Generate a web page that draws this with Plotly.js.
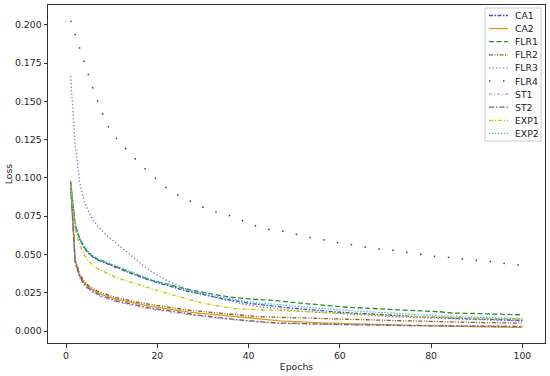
<!DOCTYPE html>
<html>
<head>
<meta charset="utf-8">
<script src="https://cdn.plot.ly/plotly-3.0.1.min.js"></script>
<style>html,body{margin:0;padding:0;background:#fff;}#chart{width:550px;height:376px;}</style>
</head>
<body>
<div id="chart"></div>
<script>
// ---- data ----
const seriesNames = ["CA1","CA2","FLR1","FLR2","FLR3","FLR4","ST1","ST2","EXP1","EXP2"];
const xTicks = [0, 20, 40, 60, 80, 100];
const yTicks = [0.000, 0.025, 0.050, 0.075, 0.100, 0.125, 0.150, 0.175, 0.200];

const CA1 = [0.0965,0.0688,0.0598,0.0542,0.0505,0.0481,0.0464,0.0451,0.0440,0.0428,
0.0416,0.0403,0.0391,0.0379,0.0367,0.0356,0.0345,0.0335,0.0325,0.0316,
0.0307,0.0298,0.0289,0.0281,0.0273,0.0265,0.0258,0.0251,0.0244,0.0237,
0.0231,0.0225,0.0219,0.0213,0.0208,0.0202,0.0197,0.0192,0.0187,0.0182,
0.0178,0.0174,0.0170,0.0166,0.0163,0.0160,0.0157,0.0154,0.0151,0.0148,
0.0145,0.0142,0.0140,0.0137,0.0134,0.0132,0.0130,0.0127,0.0125,0.0123,
0.0121,0.0119,0.0117,0.0115,0.0113,0.0111,0.0109,0.0107,0.0106,0.0104,
0.0102,0.0101,0.0099,0.0098,0.0096,0.0095,0.0093,0.0092,0.0091,0.0089,
0.0088,0.0087,0.0086,0.0085,0.0083,0.0082,0.0081,0.0080,0.0079,0.0078,
0.0077,0.0077,0.0076,0.0075,0.0074,0.0073,0.0072,0.0072,0.0071,0.0070];

const CA2 = [0.0975,0.0460,0.0362,0.0314,0.0285,0.0265,0.0250,0.0237,0.0226,0.0217,
0.0209,0.0202,0.0195,0.0189,0.0183,0.0177,0.0171,0.0165,0.0159,0.0154,
0.0149,0.0144,0.0139,0.0135,0.0131,0.0127,0.0123,0.0120,0.0117,0.0114,
0.0111,0.0108,0.0105,0.0102,0.0099,0.0096,0.0093,0.0090,0.0087,0.0084,
0.0081,0.0078,0.0076,0.0073,0.0071,0.0069,0.0067,0.0065,0.0063,0.0061,
0.0059,0.0058,0.0057,0.0056,0.0055,0.0054,0.0053,0.0052,0.0051,0.0050,
0.0049,0.0048,0.0047,0.0046,0.0045,0.0045,0.0044,0.0043,0.0042,0.0041,
0.0040,0.0040,0.0039,0.0038,0.0038,0.0037,0.0036,0.0036,0.0035,0.0034,
0.0034,0.0033,0.0033,0.0032,0.0031,0.0031,0.0030,0.0030,0.0029,0.0028,
0.0028,0.0027,0.0027,0.0026,0.0026,0.0026,0.0025,0.0025,0.0024,0.0024];

const FLR1 = [0.0978,0.0695,0.0602,0.0548,0.0510,0.0484,0.0468,0.0455,0.0446,0.0433,
0.0420,0.0408,0.0396,0.0384,0.0371,0.0358,0.0348,0.0339,0.0330,0.0322,
0.0315,0.0307,0.0298,0.0290,0.0283,0.0276,0.0270,0.0264,0.0258,0.0252,
0.0247,0.0242,0.0237,0.0231,0.0226,0.0222,0.0218,0.0215,0.0212,0.0210,
0.0208,0.0207,0.0206,0.0205,0.0202,0.0199,0.0195,0.0191,0.0188,0.0185,
0.0182,0.0180,0.0178,0.0175,0.0172,0.0168,0.0165,0.0163,0.0161,0.0159,
0.0157,0.0155,0.0154,0.0152,0.0150,0.0149,0.0147,0.0145,0.0144,0.0143,
0.0141,0.0140,0.0139,0.0138,0.0137,0.0135,0.0133,0.0131,0.0129,0.0128,
0.0127,0.0126,0.0122,0.0118,0.0117,0.0117,0.0118,0.0116,0.0115,0.0114,
0.0113,0.0112,0.0112,0.0111,0.0110,0.0109,0.0109,0.0108,0.0107,0.0106];

const FLR2 = [0.0970,0.0470,0.0372,0.0323,0.0294,0.0274,0.0259,0.0246,0.0235,0.0226,
0.0218,0.0211,0.0204,0.0198,0.0192,0.0186,0.0181,0.0176,0.0171,0.0166,
0.0161,0.0156,0.0152,0.0148,0.0144,0.0140,0.0136,0.0133,0.0130,0.0127,
0.0123,0.0120,0.0117,0.0114,0.0111,0.0108,0.0105,0.0102,0.0099,0.0096,
0.0095,0.0094,0.0093,0.0092,0.0091,0.0091,0.0090,0.0090,0.0089,0.0088,
0.0087,0.0086,0.0085,0.0084,0.0083,0.0082,0.0082,0.0081,0.0080,0.0079,
0.0078,0.0077,0.0076,0.0075,0.0074,0.0074,0.0073,0.0072,0.0071,0.0070,
0.0069,0.0069,0.0068,0.0067,0.0066,0.0066,0.0065,0.0064,0.0063,0.0062,
0.0062,0.0061,0.0061,0.0060,0.0059,0.0059,0.0058,0.0057,0.0057,0.0056,
0.0056,0.0055,0.0055,0.0054,0.0053,0.0053,0.0052,0.0052,0.0051,0.0051];

const FLR3 = [0.1665,0.1220,0.0970,0.0845,0.0775,0.0722,0.0682,0.0650,0.0622,0.0597,
0.0573,0.0548,0.0522,0.0497,0.0472,0.0448,0.0425,0.0403,0.0383,0.0365,
0.0348,0.0333,0.0319,0.0305,0.0292,0.0280,0.0269,0.0259,0.0250,0.0241,
0.0233,0.0225,0.0217,0.0210,0.0203,0.0196,0.0189,0.0182,0.0176,0.0170,
0.0165,0.0161,0.0157,0.0153,0.0149,0.0146,0.0143,0.0140,0.0137,0.0134,
0.0131,0.0129,0.0126,0.0124,0.0122,0.0120,0.0118,0.0116,0.0114,0.0112,
0.0110,0.0108,0.0107,0.0105,0.0103,0.0102,0.0100,0.0099,0.0097,0.0096,
0.0094,0.0093,0.0092,0.0090,0.0089,0.0088,0.0087,0.0085,0.0084,0.0083,
0.0082,0.0081,0.0080,0.0079,0.0078,0.0077,0.0076,0.0075,0.0074,0.0073,
0.0072,0.0071,0.0070,0.0069,0.0069,0.0068,0.0067,0.0066,0.0066,0.0065];

const FLR4 = [0.2027,0.1935,0.1843,0.1754,0.1665,0.1575,0.1495,0.1420,0.1345,0.1305,
0.1260,0.1225,0.1192,0.1161,0.1128,0.1098,0.1068,0.1040,0.1012,0.0986,
0.0960,0.0935,0.0913,0.0895,0.0880,0.0867,0.0853,0.0837,0.0822,0.0808,
0.0795,0.0782,0.0776,0.0770,0.0765,0.0752,0.0740,0.0730,0.0716,0.0702,
0.0690,0.0680,0.0670,0.0665,0.0660,0.0658,0.0655,0.0648,0.0640,0.0632,
0.0625,0.0618,0.0612,0.0607,0.0603,0.0599,0.0592,0.0584,0.0577,0.0574,
0.0570,0.0567,0.0562,0.0556,0.0551,0.0546,0.0540,0.0535,0.0533,0.0532,
0.0531,0.0527,0.0521,0.0515,0.0512,0.0508,0.0502,0.0498,0.0494,0.0490,
0.0486,0.0484,0.0483,0.0482,0.0478,0.0473,0.0469,0.0465,0.0461,0.0458,
0.0457,0.0457,0.0456,0.0452,0.0446,0.0441,0.0437,0.0434,0.0431,0.0429];

const ST1 = [0.0950,0.0445,0.0347,0.0299,0.0270,0.0250,0.0234,0.0221,0.0210,0.0200,
0.0192,0.0184,0.0177,0.0170,0.0164,0.0158,0.0152,0.0147,0.0142,0.0137,
0.0132,0.0127,0.0123,0.0119,0.0115,0.0111,0.0107,0.0103,0.0099,0.0095,
0.0091,0.0088,0.0085,0.0082,0.0079,0.0076,0.0073,0.0070,0.0067,0.0064,
0.0061,0.0058,0.0056,0.0054,0.0052,0.0051,0.0050,0.0049,0.0048,0.0047,
0.0046,0.0045,0.0045,0.0044,0.0044,0.0043,0.0043,0.0043,0.0042,0.0042,
0.0042,0.0041,0.0041,0.0041,0.0040,0.0040,0.0040,0.0040,0.0039,0.0039,
0.0039,0.0039,0.0038,0.0038,0.0038,0.0038,0.0038,0.0037,0.0037,0.0037,
0.0037,0.0037,0.0037,0.0036,0.0036,0.0036,0.0036,0.0036,0.0036,0.0036,
0.0035,0.0035,0.0035,0.0035,0.0035,0.0035,0.0035,0.0034,0.0034,0.0034];

const ST2 = [0.0955,0.0450,0.0354,0.0306,0.0277,0.0257,0.0241,0.0228,0.0217,0.0207,
0.0199,0.0191,0.0184,0.0177,0.0171,0.0165,0.0159,0.0153,0.0148,0.0143,
0.0138,0.0133,0.0128,0.0124,0.0120,0.0116,0.0112,0.0108,0.0104,0.0100,
0.0096,0.0092,0.0088,0.0085,0.0082,0.0079,0.0076,0.0073,0.0070,0.0067,
0.0064,0.0061,0.0058,0.0056,0.0054,0.0053,0.0052,0.0051,0.0050,0.0049,
0.0048,0.0048,0.0047,0.0047,0.0046,0.0045,0.0045,0.0044,0.0044,0.0043,
0.0042,0.0042,0.0041,0.0041,0.0040,0.0040,0.0039,0.0039,0.0038,0.0038,
0.0037,0.0037,0.0037,0.0036,0.0036,0.0035,0.0035,0.0035,0.0034,0.0034,
0.0034,0.0033,0.0033,0.0033,0.0032,0.0032,0.0032,0.0031,0.0031,0.0031,
0.0031,0.0030,0.0030,0.0030,0.0030,0.0029,0.0029,0.0029,0.0029,0.0029];

const EXP1 = [0.0960,0.0665,0.0565,0.0495,0.0455,0.0425,0.0405,0.0390,0.0376,0.0362,
0.0350,0.0340,0.0330,0.0320,0.0310,0.0301,0.0292,0.0283,0.0274,0.0265,
0.0256,0.0247,0.0238,0.0229,0.0220,0.0212,0.0204,0.0196,0.0189,0.0182,
0.0176,0.0170,0.0164,0.0158,0.0154,0.0150,0.0147,0.0145,0.0143,0.0142,
0.0141,0.0140,0.0139,0.0138,0.0137,0.0135,0.0134,0.0133,0.0131,0.0130,
0.0129,0.0127,0.0126,0.0124,0.0123,0.0121,0.0120,0.0118,0.0117,0.0115,
0.0114,0.0112,0.0111,0.0110,0.0108,0.0107,0.0106,0.0104,0.0103,0.0101,
0.0100,0.0099,0.0098,0.0097,0.0096,0.0095,0.0094,0.0093,0.0092,0.0090,
0.0089,0.0089,0.0088,0.0087,0.0087,0.0086,0.0085,0.0085,0.0084,0.0083,
0.0083,0.0082,0.0081,0.0081,0.0080,0.0080,0.0079,0.0079,0.0078,0.0077];

const EXP2 = [0.0970,0.0700,0.0610,0.0552,0.0515,0.0490,0.0472,0.0460,0.0449,0.0437,
0.0424,0.0411,0.0399,0.0387,0.0375,0.0363,0.0352,0.0342,0.0332,0.0323,
0.0314,0.0305,0.0296,0.0288,0.0280,0.0272,0.0265,0.0258,0.0251,0.0245,
0.0239,0.0233,0.0227,0.0222,0.0216,0.0211,0.0206,0.0201,0.0196,0.0190,
0.0187,0.0184,0.0181,0.0178,0.0176,0.0173,0.0170,0.0168,0.0165,0.0163,
0.0161,0.0158,0.0156,0.0153,0.0151,0.0148,0.0146,0.0143,0.0141,0.0138,
0.0136,0.0134,0.0132,0.0130,0.0128,0.0126,0.0124,0.0122,0.0120,0.0118,
0.0116,0.0115,0.0113,0.0111,0.0110,0.0108,0.0107,0.0105,0.0104,0.0102,
0.0101,0.0099,0.0098,0.0097,0.0096,0.0094,0.0093,0.0092,0.0091,0.0090,
0.0089,0.0088,0.0087,0.0086,0.0085,0.0084,0.0083,0.0083,0.0082,0.0081];

const epochs = CA1.map((_, i) => i + 1);

// ---- styles ----
const seriesData = {CA1, CA2, FLR1, FLR2, FLR3, FLR4, ST1, ST2, EXP1, EXP2};
const styles = {
  CA1:  {color: '#3d4fb8', dash: '4px,1.5px,1.5px,1.5px', width: 1.3},
  CA2:  {color: '#e09a1a', dash: 'solid', width: 1.3},
  FLR1: {color: '#2e8b2e', dash: '5px,2.5px', width: 1.3},
  FLR2: {color: '#8b5a2b', dash: '4px,1.5px,1px,1.5px,1px,1.5px', width: 1.3},
  FLR3: {color: '#8470d0', dash: '1.3px,2.2px', width: 1.3},
  FLR4: {color: '#404040', dash: '1.5px,12.5px', width: 1.5},
  ST1:  {color: '#d08ad8', dash: '3px,2px,1px,2px', width: 1.3},
  ST2:  {color: '#6b6b6b', dash: '5px,2px,1.5px,2px', width: 1.3},
  EXP1: {color: '#c8c400', dash: '4px,2px,1px,2px', width: 1.3},
  EXP2: {color: '#3ab5c9', dash: '1.3px,1.7px', width: 1.3}
};

const traces = seriesNames.map(n => ({
  type: 'scatter', mode: 'lines', name: n,
  x: epochs, y: seriesData[n],
  line: {color: styles[n].color, dash: styles[n].dash, width: styles[n].width},
  showlegend: false, hoverinfo: 'skip'
}));

// ---- layout geometry (pixels) ----
const W = 550, H = 376, L = 48, R = 5, T = 5, B = 33;
const pw = W - L - R, ph = H - T - B;
const px2x = p => (p - L) / pw;
const px2y = p => (H - B - p) / ph;

const shapes = [];
const annotations = [];
// custom legend box
shapes.push({type: 'rect', xref: 'paper', yref: 'paper',
  x0: px2x(485), x1: px2x(541), y0: px2y(141), y1: px2y(8),
  line: {color: '#cccccc', width: 1}, fillcolor: 'rgba(255,255,255,0.85)', layer: 'above'});
seriesNames.forEach((n, i) => {
  const yy = px2y(15.5 + i * 13.1);
  shapes.push({type: 'line', xref: 'paper', yref: 'paper',
    x0: px2x(489), x1: px2x(508), y0: yy, y1: yy,
    line: {color: styles[n].color, dash: styles[n].dash, width: styles[n].width}, layer: 'above'});
  annotations.push({xref: 'paper', yref: 'paper', x: px2x(513), y: yy,
    xanchor: 'left', yanchor: 'middle', text: n, showarrow: false,
    font: {family: 'DejaVu Sans', size: 9.3, color: '#222'}});
});

const axisCommon = {
  showline: true, mirror: true, linecolor: '#333', linewidth: 1,
  ticks: 'outside', ticklen: 3.5, tickcolor: '#333', tickwidth: 1,
  showgrid: false, zeroline: false,
  tickfont: {family: 'DejaVu Sans', size: 9.3, color: '#262626'}
};

const layout = {
  width: W, height: H,
  margin: {l: L, r: R, t: T, b: B},
  paper_bgcolor: '#fff', plot_bgcolor: '#fff',
  showlegend: false,
  xaxis: Object.assign({}, axisCommon, {
    range: [-3.95, 104.95], tickvals: xTicks, ticktext: xTicks.map(String),
    title: {text: 'Epochs', font: {family: 'DejaVu Sans', size: 9.3, color: '#262626'}, standoff: 3}
  }),
  yaxis: Object.assign({}, axisCommon, {
    range: [-0.0078, 0.2129], tickvals: yTicks, ticktext: yTicks.map(v => v.toFixed(3)),
    title: {text: 'Loss', font: {family: 'DejaVu Sans', size: 9.3, color: '#262626'}, standoff: 0}
  }),
  shapes: shapes,
  annotations: annotations
};

Plotly.newPlot('chart', traces, layout, {displayModeBar: false, staticPlot: true});
</script>
</body>
</html>
